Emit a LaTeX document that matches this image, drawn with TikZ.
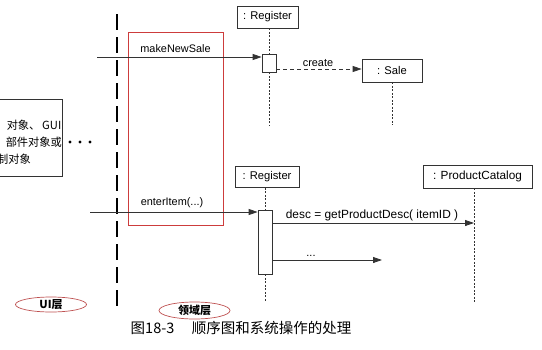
\documentclass[tikz,border=0pt]{standalone}
\usepackage{fontspec}
\setmainfont{Liberation Sans}
\newfontfamily\cjk{Noto Sans CJK SC}
\usetikzlibrary{arrows.meta,shapes.geometric}
\definecolor{redline}{RGB}{205,60,60}
\definecolor{ellline}{RGB}{190,80,80}
\begin{document}
\begin{tikzpicture}[x=1pt,y=-1pt,
  lbl/.style={font=\fontsize{10.9}{12}\selectfont, inner sep=0pt},
  objbox/.style={draw=black!80, line width=0.7pt, inner sep=0pt, font=\fontsize{11.2}{12}\selectfont},
  life/.style={draw=black!80, line width=0.6pt, dash pattern=on 2pt off 1.5pt},
  act/.style={draw=black!80, line width=0.7pt, fill=white, inner sep=0pt},
  msg/.style={draw=black!80, line width=0.8pt, -{Triangle[length=9pt,width=6pt]}},
  layer/.style={draw=ellline, line width=0.7pt, ellipse, inner sep=0pt, font=\cjk\bfseries\fontsize{11}{12}\selectfont},
  cjktxt/.style={inner sep=0pt, font=\cjk\fontsize{11.2}{12}\selectfont}
]
\useasboundingbox (0,0) rectangle (542,349);

% left UI box (clipped by page edge, as in the reference)
\node[draw=black!80, line width=0.7pt, minimum width=72pt, minimum height=77pt, inner sep=0pt] (uibox) at (26,137.5) {};
\node[cjktxt, anchor=east] (t1) at (61.5,125) {对象、\,GUI};
\node[cjktxt, anchor=east] (t2) at (62,142) {部件对象或};
\node[cjktxt, anchor=east] (t3) at (31,159) {制对象};
\fill (70,142) circle (1.6pt) (80,142) circle (1.6pt) (90,142) circle (1.6pt);

% thick dashed boundary
\coordinate (bt) at (117,14);
\coordinate (bb) at (117,312);
\draw[line width=2pt, dash pattern=on 16pt off 7pt] (bt) -- (bb);

% red domain box
\node[draw=redline, line width=0.8pt, minimum width=95pt, minimum height=193pt, inner sep=0pt] (redbox) at (175.5,128.5) {};

% first Register + Sale
\node[objbox, minimum width=61pt, minimum height=22pt] (reg1) at (267.5,17) {: Register};
\node[act, minimum width=14pt, minimum height=18pt] (act1) at (269,63) {};
\coordinate (l1end) at (269,125);
\draw[life] (reg1.south -| act1) -- (act1.north);
\draw[life] (act1.south) -- (l1end);

\node[objbox, minimum width=60pt, minimum height=23pt] (sale) at (392,70.5) {: Sale};
\coordinate (l2end) at (392,125);
\draw[life] (sale.south) -- (l2end);

\coordinate (mnsStart) at (97,57);
\draw[msg] (mnsStart) -- (mnsStart -| act1.west);
\node[lbl] (mnsLbl) at (175.5,49) {makeNewSale};

\draw[msg, dash pattern=on 4pt off 3pt] (act1.east |- 0,69) -- (sale.west |- 0,69);
\node[lbl] (createLbl) at (318,63) {create};

% second Register + ProductCatalog
\node[objbox, minimum width=64pt, minimum height=21pt] (reg2) at (267,177) {: Register};
\node[act, minimum width=14pt, minimum height=64pt] (act2) at (265,242) {};
\coordinate (l3end) at (265,302);
\draw[life] (reg2.south -| act2) -- (act2.north);
\draw[life] (act2.south) -- (l3end);

\node[objbox, minimum width=109pt, minimum height=23pt, font=\fontsize{11.8}{13}\selectfont] (pc) at (477.5,176.5) {: ProductCatalog};
\coordinate (l4end) at (474,302);
\draw[life] (pc.south -| l4end) -- (l4end);

\coordinate (eiStart) at (90,212);
\draw[msg] (eiStart) -- (eiStart -| act2.west);
\node[lbl] (eiLbl) at (172,203) {enterItem(...)};

\draw[msg] (act2.east |- 0,223) -- (l4end |- 0,223);
\node[lbl, font=\fontsize{11.9}{13}\selectfont] (descLbl) at (372,215.5) {desc = getProductDesc( itemID )};

\coordinate (dotsEnd) at (382,260);
\draw[msg] (act2.east |- dotsEnd) -- (dotsEnd);
\node[lbl] (dotsLbl) at (311,256) {...};

% layer labels
\node[layer, minimum width=71pt, minimum height=15pt] (ui) at (51,304.5) {UI层};
\node[layer, minimum width=71pt, minimum height=17pt] (dom) at (194.5,310.5) {领域层};

% caption
\node[inner sep=0pt, font=\cjk\fontsize{14.5}{15}\selectfont] (cap) at (241,328) {图18-3\hspace{1.2em}顺序图和系统操作的处理};
\end{tikzpicture}
\end{document}
